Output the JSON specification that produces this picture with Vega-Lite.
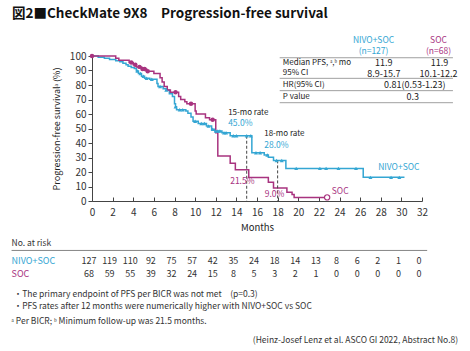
{
  "$schema": "https://vega.github.io/schema/vega-lite/v6.json",
  "width": 330,
  "height": 145,
  "autosize": {"type": "none"},
  "padding": {"left": 92, "top": 56, "right": 48, "bottom": 150},
  "background": "white",
  "config": {"font": "Noto Sans CJK JP", "view": {"stroke": null}, "axis": {"labelOverlap": false, "labelFlush": false, "grid": false}},
  "title": {"text": "図2■CheckMate 9X8　Progression-free survival", "anchor": "start", "frame": "group", "dx": -80, "offset": 16, "fontSize": 13.5, "fontWeight": "bold", "color": "#111"},
  "datasets": {
    "curves": [
      {"group": "NIVO+SOC", "month": 0, "pct": 100},
      {"group": "NIVO+SOC", "month": 0.6, "pct": 99.2},
      {"group": "NIVO+SOC", "month": 1.2, "pct": 98.4},
      {"group": "NIVO+SOC", "month": 1.7, "pct": 97.6},
      {"group": "NIVO+SOC", "month": 2.3, "pct": 96.8},
      {"group": "NIVO+SOC", "month": 2.7, "pct": 96},
      {"group": "NIVO+SOC", "month": 3.0, "pct": 95},
      {"group": "NIVO+SOC", "month": 3.3, "pct": 94},
      {"group": "NIVO+SOC", "month": 3.5, "pct": 93},
      {"group": "NIVO+SOC", "month": 3.8, "pct": 92},
      {"group": "NIVO+SOC", "month": 4.1, "pct": 91.3},
      {"group": "NIVO+SOC", "month": 4.3, "pct": 89.6},
      {"group": "NIVO+SOC", "month": 4.5, "pct": 88},
      {"group": "NIVO+SOC", "month": 4.8, "pct": 86},
      {"group": "NIVO+SOC", "month": 5.1, "pct": 84.7},
      {"group": "NIVO+SOC", "month": 5.6, "pct": 84},
      {"group": "NIVO+SOC", "month": 6.3, "pct": 81},
      {"group": "NIVO+SOC", "month": 6.4, "pct": 79},
      {"group": "NIVO+SOC", "month": 6.9, "pct": 77.5},
      {"group": "NIVO+SOC", "month": 7.2, "pct": 76.5},
      {"group": "NIVO+SOC", "month": 7.5, "pct": 74},
      {"group": "NIVO+SOC", "month": 7.8, "pct": 72},
      {"group": "NIVO+SOC", "month": 8.0, "pct": 67},
      {"group": "NIVO+SOC", "month": 8.1, "pct": 65},
      {"group": "NIVO+SOC", "month": 8.2, "pct": 63},
      {"group": "NIVO+SOC", "month": 9.1, "pct": 62},
      {"group": "NIVO+SOC", "month": 9.3, "pct": 60.5},
      {"group": "NIVO+SOC", "month": 9.6, "pct": 58},
      {"group": "NIVO+SOC", "month": 9.8, "pct": 55},
      {"group": "NIVO+SOC", "month": 10.3, "pct": 53.5},
      {"group": "NIVO+SOC", "month": 11.1, "pct": 51.7},
      {"group": "NIVO+SOC", "month": 11.6, "pct": 49.5},
      {"group": "NIVO+SOC", "month": 11.9, "pct": 48.3},
      {"group": "NIVO+SOC", "month": 12.6, "pct": 47},
      {"group": "NIVO+SOC", "month": 13.4, "pct": 45},
      {"group": "NIVO+SOC", "month": 15.5, "pct": 33.3},
      {"group": "NIVO+SOC", "month": 16.7, "pct": 31.7},
      {"group": "NIVO+SOC", "month": 17.1, "pct": 30.2},
      {"group": "NIVO+SOC", "month": 17.6, "pct": 28},
      {"group": "NIVO+SOC", "month": 18.8, "pct": 22.5},
      {"group": "NIVO+SOC", "month": 26.3, "pct": 16.3},
      {"group": "NIVO+SOC", "month": 30.3, "pct": 16.3},
      {"group": "SOC", "month": 0, "pct": 100},
      {"group": "SOC", "month": 2.3, "pct": 98.5},
      {"group": "SOC", "month": 2.6, "pct": 97},
      {"group": "SOC", "month": 3.6, "pct": 95.5},
      {"group": "SOC", "month": 4.0, "pct": 94},
      {"group": "SOC", "month": 4.3, "pct": 92.5},
      {"group": "SOC", "month": 4.8, "pct": 91},
      {"group": "SOC", "month": 5.3, "pct": 89.5},
      {"group": "SOC", "month": 6.0, "pct": 88},
      {"group": "SOC", "month": 6.6, "pct": 85},
      {"group": "SOC", "month": 6.8, "pct": 82},
      {"group": "SOC", "month": 7.0, "pct": 79},
      {"group": "SOC", "month": 7.3, "pct": 76.5},
      {"group": "SOC", "month": 7.6, "pct": 75},
      {"group": "SOC", "month": 8.4, "pct": 72},
      {"group": "SOC", "month": 8.6, "pct": 70},
      {"group": "SOC", "month": 9.0, "pct": 68.5},
      {"group": "SOC", "month": 9.2, "pct": 67},
      {"group": "SOC", "month": 10.0, "pct": 62},
      {"group": "SOC", "month": 10.1, "pct": 60},
      {"group": "SOC", "month": 11.0, "pct": 57.5},
      {"group": "SOC", "month": 11.4, "pct": 56},
      {"group": "SOC", "month": 12.0, "pct": 47},
      {"group": "SOC", "month": 12.2, "pct": 31},
      {"group": "SOC", "month": 13.4, "pct": 26},
      {"group": "SOC", "month": 13.9, "pct": 21.5},
      {"group": "SOC", "month": 15.2, "pct": 16.2},
      {"group": "SOC", "month": 17.1, "pct": 13},
      {"group": "SOC", "month": 17.6, "pct": 9},
      {"group": "SOC", "month": 18.9, "pct": 6},
      {"group": "SOC", "month": 19.4, "pct": 4.5},
      {"group": "SOC", "month": 19.6, "pct": 2.5},
      {"group": "SOC", "month": 22.8, "pct": 2.5}
    ],
    "censor": [
      {"group": "NIVO+SOC", "month": 4.4, "pct": 89.6},
      {"group": "NIVO+SOC", "month": 4.7, "pct": 88},
      {"group": "NIVO+SOC", "month": 5.0, "pct": 86},
      {"group": "NIVO+SOC", "month": 5.3, "pct": 84.7},
      {"group": "NIVO+SOC", "month": 5.8, "pct": 84},
      {"group": "NIVO+SOC", "month": 6.6, "pct": 79},
      {"group": "NIVO+SOC", "month": 7.2, "pct": 76.5},
      {"group": "NIVO+SOC", "month": 8.1, "pct": 65},
      {"group": "NIVO+SOC", "month": 8.5, "pct": 63},
      {"group": "NIVO+SOC", "month": 8.8, "pct": 63},
      {"group": "NIVO+SOC", "month": 10.0, "pct": 55},
      {"group": "NIVO+SOC", "month": 10.6, "pct": 53.5},
      {"group": "NIVO+SOC", "month": 10.9, "pct": 53.5},
      {"group": "NIVO+SOC", "month": 11.3, "pct": 51.7},
      {"group": "NIVO+SOC", "month": 11.7, "pct": 49.5},
      {"group": "NIVO+SOC", "month": 12.0, "pct": 48.3},
      {"group": "NIVO+SOC", "month": 12.2, "pct": 48.3},
      {"group": "NIVO+SOC", "month": 12.4, "pct": 48.3},
      {"group": "NIVO+SOC", "month": 12.8, "pct": 47},
      {"group": "NIVO+SOC", "month": 13.0, "pct": 47},
      {"group": "NIVO+SOC", "month": 13.7, "pct": 45},
      {"group": "NIVO+SOC", "month": 14.0, "pct": 45},
      {"group": "NIVO+SOC", "month": 15.0, "pct": 45},
      {"group": "NIVO+SOC", "month": 15.4, "pct": 45},
      {"group": "NIVO+SOC", "month": 15.9, "pct": 33.3},
      {"group": "NIVO+SOC", "month": 16.3, "pct": 33.3},
      {"group": "NIVO+SOC", "month": 17.0, "pct": 31.7},
      {"group": "NIVO+SOC", "month": 17.9, "pct": 28},
      {"group": "NIVO+SOC", "month": 18.4, "pct": 28},
      {"group": "NIVO+SOC", "month": 19.8, "pct": 22.5},
      {"group": "NIVO+SOC", "month": 22.1, "pct": 22.5},
      {"group": "NIVO+SOC", "month": 22.7, "pct": 22.5},
      {"group": "NIVO+SOC", "month": 23.9, "pct": 22.5},
      {"group": "NIVO+SOC", "month": 25.6, "pct": 22.5},
      {"group": "NIVO+SOC", "month": 27.0, "pct": 16.3},
      {"group": "NIVO+SOC", "month": 29.0, "pct": 16.3},
      {"group": "NIVO+SOC", "month": 29.8, "pct": 16.3},
      {"group": "SOC", "month": 0, "pct": 100},
      {"group": "SOC", "month": 3.8, "pct": 95.5},
      {"group": "SOC", "month": 4.2, "pct": 94},
      {"group": "SOC", "month": 4.6, "pct": 92.5},
      {"group": "SOC", "month": 4.9, "pct": 91},
      {"group": "SOC", "month": 5.1, "pct": 91},
      {"group": "SOC", "month": 5.4, "pct": 89.5},
      {"group": "SOC", "month": 8.1, "pct": 75},
      {"group": "SOC", "month": 9.6, "pct": 67},
      {"group": "SOC", "month": 11.7, "pct": 56}
    ],
    "lastsoc": [{"group": "SOC", "month": 22.8, "pct": 2.5}],
    "rates": [{"month": 15, "pct": 45}, {"month": 18, "pct": 28}],
    "curvenotes": [
      {"group": "NIVO+SOC", "month": 13.2, "pct": 53.5, "label": "45.0%"},
      {"group": "NIVO+SOC", "month": 16.7, "pct": 38.6, "label": "28.0%"},
      {"group": "SOC", "month": 13.4, "pct": 13.8, "label": "21.5%"},
      {"group": "SOC", "month": 16.75, "pct": 4.8, "label": "9.0%"},
      {"group": "NIVO+SOC", "month": 27.75, "pct": 23.7, "label": "NIVO+SOC"},
      {"group": "SOC", "month": 23.25, "pct": 7.1, "label": "SOC"}
    ],
    "ratenotes": [
      {"month": 13.2, "pct": 61, "label": "15-mo rate"},
      {"month": 16.7, "pct": 46, "label": "18-mo rate"}
    ],
    "hrhead": [
      {"group": "NIVO+SOC", "month": 27.3, "pct": 111, "label": "NIVO+SOC"},
      {"group": "NIVO+SOC", "month": 27.3, "pct": 103.4, "label": "(n=127)"},
      {"group": "SOC", "month": 33.6, "pct": 111, "label": "SOC"},
      {"group": "SOC", "month": 33.6, "pct": 103.4, "label": "(n=68)"}
    ],
    "hrlabels": [
      {"month": 18.5, "pct": 95.2, "label": "Median PFS, ᵃ,ᵇ mo"},
      {"month": 18.5, "pct": 88.3, "label": "95% CI"},
      {"month": 18.5, "pct": 80.2, "label": "HR(95% CI)"},
      {"month": 18.5, "pct": 71.9, "label": "P value"}
    ],
    "hrvalues": [
      {"month": 28.3, "pct": 95.4, "label": "11.9"},
      {"month": 33.7, "pct": 95.4, "label": "11.9"},
      {"month": 28.3, "pct": 87.7, "label": "8.9-15.7"},
      {"month": 33.6, "pct": 87.7, "label": "10.1-12.2"},
      {"month": 31.3, "pct": 80.2, "label": "0.81(0.53-1.23)"},
      {"month": 31.1, "pct": 71.9, "label": "0.3"}
    ],
    "hrrules": [
      {"month": 18.2, "month2": 35, "pct": 98.8},
      {"month": 18.2, "month2": 35, "pct": 84.6},
      {"month": 18.2, "month2": 35, "pct": 76.1},
      {"month": 18.2, "month2": 35, "pct": 67.8}
    ],
    "riskrule": [{"month": -7.8, "month2": 32.5, "pct": -34.1}],
    "atrisk": [
      {"group": "NIVO+SOC", "month": 0, "n": 127}, {"group": "NIVO+SOC", "month": 2, "n": 119},
      {"group": "NIVO+SOC", "month": 4, "n": 110}, {"group": "NIVO+SOC", "month": 6, "n": 92},
      {"group": "NIVO+SOC", "month": 8, "n": 75}, {"group": "NIVO+SOC", "month": 10, "n": 57},
      {"group": "NIVO+SOC", "month": 12, "n": 42}, {"group": "NIVO+SOC", "month": 14, "n": 35},
      {"group": "NIVO+SOC", "month": 16, "n": 24}, {"group": "NIVO+SOC", "month": 18, "n": 18},
      {"group": "NIVO+SOC", "month": 20, "n": 14}, {"group": "NIVO+SOC", "month": 22, "n": 13},
      {"group": "NIVO+SOC", "month": 24, "n": 8}, {"group": "NIVO+SOC", "month": 26, "n": 6},
      {"group": "NIVO+SOC", "month": 28, "n": 2}, {"group": "NIVO+SOC", "month": 30, "n": 1},
      {"group": "NIVO+SOC", "month": 32, "n": 0},
      {"group": "SOC", "month": 0, "n": 68}, {"group": "SOC", "month": 2, "n": 59},
      {"group": "SOC", "month": 4, "n": 55}, {"group": "SOC", "month": 6, "n": 39},
      {"group": "SOC", "month": 8, "n": 32}, {"group": "SOC", "month": 10, "n": 24},
      {"group": "SOC", "month": 12, "n": 15}, {"group": "SOC", "month": 14, "n": 8},
      {"group": "SOC", "month": 16, "n": 5}, {"group": "SOC", "month": 18, "n": 3},
      {"group": "SOC", "month": 20, "n": 2}, {"group": "SOC", "month": 22, "n": 1},
      {"group": "SOC", "month": 24, "n": 0}, {"group": "SOC", "month": 26, "n": 0},
      {"group": "SOC", "month": 28, "n": 0}, {"group": "SOC", "month": 30, "n": 0},
      {"group": "SOC", "month": 32, "n": 0}
    ],
    "risklabels": [
      {"group": "NIVO+SOC", "month": -7.8, "pct": -41.4, "label": "NIVO+SOC"},
      {"group": "SOC", "month": -7.8, "pct": -50.6, "label": "SOC"}
    ],
    "notes": [
      {"month": -7.8, "pct": -29, "label": "No. at risk"},
      {"month": -7.6, "pct": -64.1, "label": "・The primary endpoint of PFS per BICR was not met　(p=0.3)"},
      {"month": -7.6, "pct": -72.4, "label": "・PFS rates after 12 months were numerically higher with NIVO+SOC vs SOC"},
      {"month": -7.8, "pct": -82.8, "label": "ᵃ Per BICR; ᵇ Minimum follow-up was 21.5 months."}
    ],
    "citation": [
      {"month": 35.5, "pct": -95.9, "label": "(Heinz-Josef Lenz et al. ASCO GI 2022, Abstract No.8)"}
    ]
  },
  "encoding": {
    "x": {
      "field": "month", "type": "quantitative",
      "scale": {"domain": [0, 32], "nice": false, "zero": false},
      "axis": {
        "title": "Months", "values": [0, 2, 4, 6, 8, 10, 12, 14, 16, 18, 20, 22, 24, 26, 28, 30, 32],
        "grid": false, "tickSize": -4, "labelPadding": 10, "labelFontSize": 10, "labelColor": "#333",
        "labelOverlap": false, "labelFlush": false,
        "domainColor": "#444", "tickColor": "#444", "titleFontSize": 9.5, "titleFontWeight": "normal",
        "titleColor": "#222", "titlePadding": 5
      }
    },
    "y": {
      "field": "pct", "type": "quantitative",
      "scale": {"domain": [0, 100], "nice": false},
      "axis": {
        "title": "Progression-free survivalᵃ (%)", "values": [0, 10, 20, 30, 40, 50, 60, 70, 80, 90, 100],
        "grid": false, "tickSize": 4, "labelPadding": 2, "labelFontSize": 10, "labelColor": "#333",
        "labelOverlap": false, "labelFlush": false,
        "domainColor": "#444", "tickColor": "#444", "titleFontSize": 9, "titleFontWeight": "normal",
        "titleColor": "#222", "titlePadding": 8
      }
    }
  },
  "layer": [
    {
      "data": {"name": "curves"},
      "mark": {"type": "line", "interpolate": "step-after", "strokeWidth": 1.5},
      "encoding": {
        "color": {"field": "group", "type": "nominal", "scale": {"domain": ["NIVO+SOC", "SOC"], "range": ["#34a6d3", "#a8337f"]}, "legend": null}
      }
    },
    {
      "data": {"name": "hrrules"},
      "mark": {"type": "rule", "color": "#888", "strokeWidth": 0.8},
      "encoding": {"x2": {"field": "month2"}}
    },
    {
      "data": {"name": "rates"},
      "mark": {"type": "rule", "color": "#444", "strokeDash": [3, 2], "strokeWidth": 1},
      "encoding": {"y2": {"datum": 0}}
    },
    {
      "data": {"name": "censor"},
      "transform": [{"filter": "datum.group === 'NIVO+SOC'"}],
      "mark": {"type": "point", "shape": "triangle-up", "filled": true, "size": 16, "opacity": 1},
      "encoding": {"color": {"field": "group", "type": "nominal", "legend": null}}
    },
    {
      "data": {"name": "censor"},
      "transform": [{"filter": "datum.group === 'SOC'"}],
      "mark": {"type": "point", "shape": "circle", "filled": true, "size": 20, "opacity": 1},
      "encoding": {"color": {"field": "group", "type": "nominal", "legend": null}}
    },
    {
      "data": {"name": "lastsoc"},
      "mark": {"type": "point", "shape": "circle", "filled": true, "fill": "white", "stroke": "#a8337f", "strokeWidth": 1.2, "size": 28, "opacity": 1},
      "encoding": {}
    },
    {
      "data": {"name": "curvenotes"},
      "mark": {"type": "text", "align": "left", "baseline": "middle", "fontSize": 8.5},
      "encoding": {
        "text": {"field": "label"},
        "color": {"field": "group", "type": "nominal", "legend": null}
      }
    },
    {
      "data": {"name": "ratenotes"},
      "mark": {"type": "text", "align": "left", "baseline": "middle", "fontSize": 8, "color": "#222"},
      "encoding": {"text": {"field": "label"}}
    },
    {
      "data": {"name": "hrhead"},
      "mark": {"type": "text", "align": "center", "baseline": "middle", "fontSize": 8.5},
      "encoding": {
        "text": {"field": "label"},
        "color": {"field": "group", "type": "nominal", "legend": null}
      }
    },
    {
      "data": {"name": "hrlabels"},
      "mark": {"type": "text", "align": "left", "baseline": "middle", "fontSize": 8, "color": "#222"},
      "encoding": {"text": {"field": "label"}}
    },
    {
      "data": {"name": "hrvalues"},
      "mark": {"type": "text", "align": "center", "baseline": "middle", "fontSize": 9, "color": "#222"},
      "encoding": {"text": {"field": "label"}}
    },
    {
      "data": {"name": "notes"},
      "mark": {"type": "text", "align": "left", "baseline": "middle", "fontSize": 8.5, "color": "#333"},
      "encoding": {"text": {"field": "label"}}
    },
    {
      "data": {"name": "citation"},
      "mark": {"type": "text", "align": "right", "baseline": "middle", "fontSize": 8.5, "color": "#333"},
      "encoding": {"text": {"field": "label"}}
    },
    {
      "data": {"name": "riskrule"},
      "mark": {"type": "rule", "color": "#666", "strokeWidth": 0.8},
      "encoding": {"x2": {"field": "month2"}}
    },
    {
      "data": {"name": "risklabels"},
      "mark": {"type": "text", "align": "left", "baseline": "middle", "fontSize": 9},
      "encoding": {
        "text": {"field": "label"},
        "color": {"field": "group", "type": "nominal", "legend": null}
      }
    },
    {
      "data": {"name": "atrisk"},
      "transform": [{"lookup": "group", "from": {"data": {"name": "risklabels"}, "key": "group", "fields": ["pct"]}}],
      "mark": {"type": "text", "align": "center", "baseline": "middle", "fontSize": 9, "color": "#333", "dx": -3},
      "encoding": {"text": {"field": "n"}}
    }
  ]
}
